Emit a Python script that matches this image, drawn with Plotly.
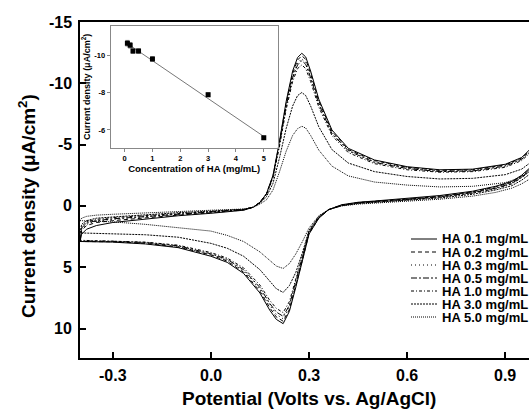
import plotly.graph_objects as go

# ---------------- data ----------------
fwd_potential = [-0.40, -0.395, -0.38, -0.35, -0.30, -0.20, -0.10, 0.00, 0.05, 0.10,
                 0.13, 0.15, 0.17, 0.19, 0.21, 0.23, 0.25, 0.265, 0.278, 0.29,
                 0.305, 0.33, 0.37, 0.42, 0.50, 0.60, 0.70, 0.80, 0.90, 0.95, 0.975]
rev_potential = [0.975, 0.95, 0.92, 0.87, 0.80, 0.70, 0.60, 0.50, 0.45, 0.40,
                 0.36, 0.33, 0.30, 0.28, 0.26, 0.24, 0.221, 0.20, 0.18, 0.15,
                 0.10, 0.05, 0.00, -0.10, -0.20, -0.30, -0.40]
potential = fwd_potential + rev_potential

series_names = ["HA 0.1 mg/mL", "HA 0.2 mg/mL", "HA 0.3 mg/mL", "HA 0.5 mg/mL",
                "HA 1.0 mg/mL", "HA 3.0 mg/mL", "HA 5.0 mg/mL"]

ha_0_1 = [2.9, 2.3, 1.9, 1.6, 1.35, 1.05, 0.8, 0.6, 0.5, 0.35,
          0.1, -0.3, -1.0, -2.5, -5.3, -8.5, -11.0, -12.1, -12.45, -12.15,
          -11.0, -8.7, -6.2, -4.7, -3.75, -3.2, -2.95, -3.0, -3.4, -3.95, -4.6,
          -3.1, -2.5, -2.0, -1.6, -1.2, -0.85, -0.6, -0.4, -0.3, -0.1,
          0.3, 1.0, 2.3, 4.5, 6.6, 8.6, 9.6, 9.25, 8.5, 7.1,
          5.5, 4.6, 4.1, 3.4, 3.1, 2.95, 2.9]
ha_0_2 = [2.9, 2.0, 1.6, 1.35, 1.2, 0.95, 0.75, 0.55, 0.45, 0.33,
          0.1, -0.3, -1.0, -2.45, -5.2, -8.35, -10.8, -11.9, -12.25, -11.95,
          -10.8, -8.55, -6.1, -4.6, -3.7, -3.15, -2.9, -2.95, -3.35, -3.9, -4.5,
          -3.0, -2.45, -1.95, -1.55, -1.15, -0.8, -0.55, -0.38, -0.28, -0.08,
          0.3, 1.0, 2.25, 4.4, 6.5, 8.45, 9.4, 9.05, 8.3, 6.95,
          5.4, 4.5, 4.0, 3.35, 3.05, 2.92, 2.9]
ha_0_3 = [2.9, 1.9, 1.5, 1.25, 1.1, 0.9, 0.7, 0.5, 0.42, 0.3,
          0.1, -0.3, -0.95, -2.4, -5.1, -8.2, -10.6, -11.65, -12.0, -11.7,
          -10.6, -8.4, -6.0, -4.55, -3.6, -3.1, -2.85, -2.9, -3.3, -3.85, -4.45,
          -2.95, -2.4, -1.9, -1.5, -1.1, -0.78, -0.53, -0.36, -0.26, -0.06,
          0.3, 0.98, 2.2, 4.3, 6.35, 8.25, 9.2, 8.85, 8.1, 6.8,
          5.3, 4.42, 3.95, 3.3, 3.0, 2.9, 2.9]
ha_0_5 = [2.85, 1.8, 1.4, 1.2, 1.05, 0.85, 0.65, 0.5, 0.4, 0.3,
          0.1, -0.28, -0.95, -2.4, -5.05, -8.1, -10.45, -11.5, -11.85, -11.55,
          -10.45, -8.3, -5.9, -4.5, -3.55, -3.05, -2.8, -2.85, -3.25, -3.8, -4.4,
          -2.9, -2.35, -1.85, -1.45, -1.08, -0.75, -0.52, -0.35, -0.25, -0.05,
          0.3, 0.95, 2.15, 4.2, 6.2, 8.1, 9.0, 8.65, 7.95, 6.65,
          5.2, 4.35, 3.9, 3.25, 2.98, 2.88, 2.85]
ha_1_0 = [2.8, 1.7, 1.3, 1.1, 0.95, 0.8, 0.6, 0.45, 0.38, 0.28,
          0.1, -0.28, -0.92, -2.3, -4.9, -7.85, -10.15, -11.2, -11.5, -11.2,
          -10.15, -8.05, -5.75, -4.35, -3.45, -2.95, -2.75, -2.8, -3.15, -3.7, -4.3,
          -2.85, -2.3, -1.8, -1.4, -1.05, -0.72, -0.5, -0.33, -0.23, -0.04,
          0.3, 0.92, 2.05, 4.05, 6.0, 7.8, 8.7, 8.35, 7.7, 6.45,
          5.05, 4.25, 3.8, 3.2, 2.95, 2.85, 2.8]
ha_3_0 = [2.2, 1.5, 1.2, 1.0, 0.9, 0.7, 0.55, 0.42, 0.35, 0.27,
          0.1, -0.22, -0.75, -1.85, -3.95, -6.3, -8.15, -9.0, -9.25, -9.0,
          -8.15, -6.45, -4.6, -3.5, -2.8, -2.4, -2.2, -2.25, -2.55, -3.0, -3.5,
          -2.6, -2.1, -1.65, -1.3, -0.95, -0.65, -0.45, -0.3, -0.2, -0.02,
          0.3, 0.85, 2.0, 3.8, 5.4, 6.5, 7.05, 6.75, 6.15, 5.2,
          4.1, 3.45, 3.05, 2.55, 2.35, 2.25, 2.2]
ha_5_0 = [1.2, 1.0, 0.85, 0.75, 0.68, 0.55, 0.45, 0.35, 0.3, 0.25,
          0.1, -0.15, -0.5, -1.3, -2.8, -4.45, -5.75, -6.3, -6.5, -6.35,
          -5.75, -4.55, -3.25, -2.45, -1.95, -1.7, -1.55, -1.6, -1.9, -2.35, -2.8,
          -2.2, -1.8, -1.45, -1.1, -0.8, -0.55, -0.38, -0.25, -0.15, 0.0,
          0.3, 0.8, 1.8, 2.9, 3.9, 4.7, 5.1, 4.9, 4.45, 3.75,
          2.9, 2.4, 2.05, 1.75, 1.5, 1.3, 1.2]
series_values = [ha_0_1, ha_0_2, ha_0_3, ha_0_5, ha_1_0, ha_3_0, ha_5_0]

# inset: peak current density vs concentration
inset_conc = [0.1, 0.2, 0.3, 0.5, 1.0, 3.0, 5.0]
inset_current = [-10.63, -10.52, -10.21, -10.21, -9.79, -7.88, -5.58]
inset_error = [0.15, 0.15, 0.12, 0.12, 0.12, 0.1, 0.08]
fit_conc = [0.05, 5.0]
fit_current = [-10.66, -5.65]

x_ticks = [-0.3, 0.0, 0.3, 0.6, 0.9]
x_ticklabels = ["-0.3", "0.0", "0.3", "0.6", "0.9"]
y_ticks = [-15, -10, -5, 0, 5, 10]
y_ticklabels = ["-15", "-10", "-5", "0", "5", "10"]
inset_xticks = [0, 1, 2, 3, 4, 5]
inset_xticklabels = ["0", "1", "2", "3", "4", "5"]
inset_yticks = [-10, -8, -6]
inset_yticklabels = ["-10", "-8", "-6"]

# ---------------- styling ----------------
FONT = "Liberation Sans, Arial, Helvetica, sans-serif"
dashes = ["solid", "4px,3px", "1px,3px", "6px,2px,2px,2px", "3px,2px,1px,2px", "2px,1px", "1px,1px"]

W, H = 529, 410
ML, MR, MT, MB = 80, 0, 22, 52
pw, ph = W - ML - MR, H - MT - MB


def px_x(p):
    return (p - ML) / pw


def px_y(p):
    return (H - MB - p) / ph


def bold(labels):
    return ["<b>" + t + "</b>" for t in labels]


fig = go.Figure()
for name, vals, dsh in zip(series_names, series_values, dashes):
    fig.add_trace(go.Scatter(x=potential, y=vals, mode="lines", name=name,
                             line=dict(color="black", width=1, dash=dsh),
                             showlegend=False, xaxis="x", yaxis="y"))

# inset
fig.add_trace(go.Scatter(x=fit_conc, y=fit_current, mode="lines",
                         line=dict(color="#777777", width=1),
                         showlegend=False, xaxis="x2", yaxis="y2"))
fig.add_trace(go.Scatter(x=inset_conc, y=inset_current, mode="markers",
                         marker=dict(symbol="square", size=5, color="black"),
                         error_y=dict(type="data", array=inset_error, color="#888888",
                                      thickness=1, width=2),
                         showlegend=False, xaxis="x2", yaxis="y2"))

# main-axis tick labels placed at the axis' own data coordinates
for v, t in zip(x_ticks, x_ticklabels):
    fig.add_annotation(xref="x", yref="paper", x=v, y=px_y(375), text="<b>" + t + "</b>",
                       showarrow=False, xanchor="center", yanchor="middle",
                       font=dict(family=FONT, size=16, color="black"))
for v, t in zip(y_ticks, y_ticklabels):
    fig.add_annotation(xref="paper", yref="y", x=px_x(74), y=v, text="<b>" + t + "</b>",
                       showarrow=False, xanchor="right", yanchor="middle",
                       font=dict(family=FONT, size=16, color="black"))

# manual legend
leg_y = [239, 252, 265, 278, 291, 304, 317]
for name, dsh, yy in zip(series_names, dashes, leg_y):
    fig.add_shape(type="line", xref="paper", yref="paper",
                  x0=px_x(411), x1=px_x(437), y0=px_y(yy), y1=px_y(yy),
                  line=dict(color="black", width=1, dash=dsh))
    fig.add_annotation(xref="paper", yref="paper", x=px_x(440), y=px_y(yy),
                       text="<b>" + name + "</b>", showarrow=False,
                       xanchor="left", yanchor="middle",
                       font=dict(family=FONT, size=13, color="black"))

# axis titles
fig.add_annotation(xref="paper", yref="paper", x=px_x(309), y=px_y(398),
                   text="<b>Potential (Volts vs. Ag/AgCl)</b>", showarrow=False,
                   xanchor="center", yanchor="middle",
                   font=dict(family=FONT, size=19, color="black"))
fig.add_annotation(xref="paper", yref="paper", x=px_x(27), y=px_y(206),
                   text="<b>Current density (\u03bcA/cm<sup>2</sup>)</b>", showarrow=False,
                   textangle=-90, xanchor="center", yanchor="middle",
                   font=dict(family=FONT, size=19, color="black"))

axis_common = dict(showgrid=False, zeroline=False, showline=True, linecolor="black",
                   linewidth=1.5, ticks="inside", ticklen=6, tickwidth=1.5,
                   tickcolor="black", showticklabels=False)

fig.update_layout(
    width=W, height=H,
    margin=dict(l=ML, r=MR, t=MT, b=MB),
    paper_bgcolor="white", plot_bgcolor="white",
    font=dict(family=FONT, color="black"),
    xaxis=dict(range=[-0.4, 0.9725], tickvals=x_ticks,
               mirror=True, domain=[0, 1], anchor="y", **axis_common),
    yaxis=dict(range=[12.4, -15], tickvals=y_ticks,
               mirror=False, domain=[0, 1], anchor="x", **axis_common),
    xaxis2=dict(domain=[px_x(110.7), px_x(277.7)], anchor="y2", range=[-0.5, 5.5],
                tickvals=inset_xticks, ticktext=bold(inset_xticklabels),
                showgrid=False, zeroline=False, showline=True,
                mirror=True, linecolor="#888888", linewidth=1, ticks="outside",
                ticklen=3, tickcolor="#888888",
                tickfont=dict(family=FONT, size=7.5),
                title=dict(text="<b>Concentration of HA (mg/mL)</b>", standoff=0,
                           font=dict(family=FONT, size=9.5))),
    yaxis2=dict(domain=[px_y(147.7), px_y(26)], anchor="x2", range=[-5.05, -11.55],
                tickvals=inset_yticks, ticktext=bold(inset_yticklabels),
                showgrid=False, zeroline=False, showline=True,
                mirror=True, linecolor="#888888", linewidth=1, ticks="outside",
                ticklen=3, tickcolor="#888888",
                tickfont=dict(family=FONT, size=7.5),
                title=dict(text="<b>Current density (\u03bcA/cm<sup>2</sup>)</b>", standoff=2,
                           font=dict(family=FONT, size=9))),
)

fig.write_html("out.html", config={"displayModeBar": False},
               post_script="document.body.style.margin='0px';")
